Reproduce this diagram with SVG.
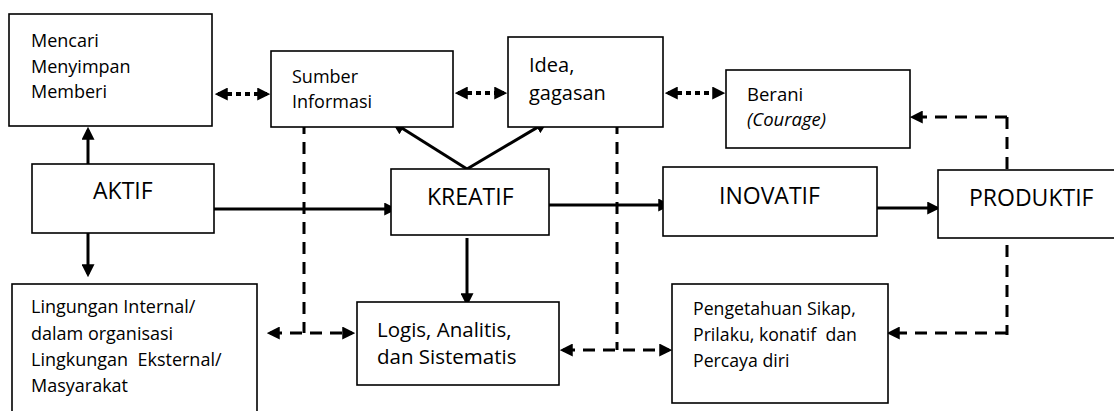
<svg xmlns="http://www.w3.org/2000/svg" width="1114" height="411" viewBox="0 0 1114 411">
<style>
.box{fill:#fff;stroke:#000;stroke-width:1.6}
.t{font-family:"Open Sans","Liberation Sans",sans-serif;fill:#000}
.lbl{font-size:23px}
.solid{stroke:#000;stroke-width:3;fill:none}
.dash{stroke:#000;stroke-width:3;fill:none;stroke-dasharray:12 8}
.dot{stroke:#000;stroke-width:4;fill:none;stroke-dasharray:5 4}
</style>
<defs>
<marker id="arr" viewBox="0 0 12 12" refX="9" refY="6" markerWidth="13" markerHeight="13" markerUnits="userSpaceOnUse" orient="auto-start-reverse">
<path d="M0,0 L12,6 L0,12 z" fill="#000"/>
</marker>
</defs>
<rect width="1114" height="411" fill="#fff"/>

<g id="connectors">
<line class="dot" x1="218" y1="94" x2="267" y2="94" marker-start="url(#arr)" marker-end="url(#arr)"/>
<line class="dot" x1="458" y1="93" x2="504" y2="93" marker-start="url(#arr)" marker-end="url(#arr)"/>
<line class="dot" x1="668" y1="93" x2="722" y2="93" marker-start="url(#arr)" marker-end="url(#arr)"/>
<line class="solid" x1="88" y1="164" x2="88" y2="130" marker-end="url(#arr)"/>
<line class="solid" x1="88" y1="233" x2="88" y2="274" marker-end="url(#arr)"/>
<line class="solid" x1="214" y1="209" x2="394" y2="209" marker-end="url(#arr)"/>
<line class="solid" x1="544" y1="205" x2="668" y2="205" marker-end="url(#arr)"/>
<line class="solid" x1="877" y1="208" x2="937" y2="208" marker-end="url(#arr)"/>
<line class="solid" x1="467" y1="238" x2="467" y2="303" marker-end="url(#arr)"/>
<line class="solid" x1="467" y1="169" x2="394.6" y2="123.6" marker-end="url(#arr)"/>
<line class="solid" x1="467" y1="169" x2="545.4" y2="122.6" marker-end="url(#arr)"/>
<line class="dash" x1="304" y1="122" x2="304" y2="333"/>
<line class="dash" x1="270" y1="333" x2="352" y2="333" marker-start="url(#arr)" marker-end="url(#arr)"/>
<line class="dash" x1="617" y1="122" x2="617" y2="350"/>
<line class="dash" x1="563" y1="350" x2="669" y2="350" marker-start="url(#arr)" marker-end="url(#arr)"/>
<line class="dash" x1="1007" y1="169" x2="1007" y2="115"/>
<line class="dash" x1="1007" y1="117" x2="913" y2="117" marker-end="url(#arr)"/>
<line class="dash" x1="1007" y1="245" x2="1007" y2="335"/>
<line class="dash" x1="1007" y1="333" x2="890" y2="333" marker-end="url(#arr)"/>
</g>

<g id="mencari">
<rect class="box" x="9" y="14" width="203" height="112"/>
<text class="t" font-size="18" x="31" y="47">Mencari</text>
<text class="t" font-size="18" x="31" y="73">Menyimpan</text>
<text class="t" font-size="18" x="31" y="98">Memberi</text>
</g>
<g id="sumber">
<rect class="box" x="271" y="51" width="182" height="76"/>
<text class="t" font-size="18" x="292" y="83">Sumber</text>
<text class="t" font-size="18" x="292" y="108">Informasi</text>
</g>
<g id="idea">
<rect class="box" x="508" y="37" width="155" height="90"/>
<text class="t" font-size="20" x="529" y="72">Idea,</text>
<text class="t" font-size="20" x="529" y="100">gagasan</text>
</g>
<g id="berani">
<rect class="box" x="726" y="70" width="184" height="78"/>
<text class="t" font-size="18.5" x="747" y="101">Berani</text>
<text class="t" font-size="18.5" font-style="italic" x="747" y="126">(Courage)</text>
</g>
<g id="aktif">
<rect class="box" x="32" y="164" width="182" height="69"/>
<text class="t lbl" x="93" y="199">AKTIF</text>
</g>
<g id="kreatif">
<rect class="box" x="391" y="169" width="158" height="66"/>
<text class="t lbl" x="427" y="205">KREATIF</text>
</g>
<g id="inovatif">
<rect class="box" x="663" y="167" width="214" height="69"/>
<text class="t lbl" x="719" y="204">INOVATIF</text>
</g>
<g id="produktif">
<rect class="box" x="938" y="170" width="180" height="68"/>
<text class="t lbl" x="969" y="206">PRODUKTIF</text>
</g>
<g id="lingkungan">
<rect class="box" x="12" y="284" width="245" height="140"/>
<text class="t" font-size="18" x="31" y="313">Lingungan Internal/</text>
<text class="t" font-size="18" x="31" y="340">dalam organisasi</text>
<text class="t" font-size="18" x="31" y="366" xml:space="preserve">Lingkungan  Eksternal/</text>
<text class="t" font-size="18" x="31" y="392">Masyarakat</text>
</g>
<g id="logis">
<rect class="box" x="357" y="302" width="202" height="83"/>
<text class="t" font-size="20.5" x="377" y="337">Logis, Analitis,</text>
<text class="t" font-size="20.5" x="377" y="364">dan Sistematis</text>
</g>
<g id="pengetahuan">
<rect class="box" x="672" y="284" width="216" height="119"/>
<text class="t" font-size="17.7" x="693" y="315">Pengetahuan Sikap,</text>
<text class="t" font-size="17.7" x="693" y="341" xml:space="preserve">Prilaku, konatif  dan</text>
<text class="t" font-size="17.7" x="693" y="367">Percaya diri</text>
</g>
</svg>
